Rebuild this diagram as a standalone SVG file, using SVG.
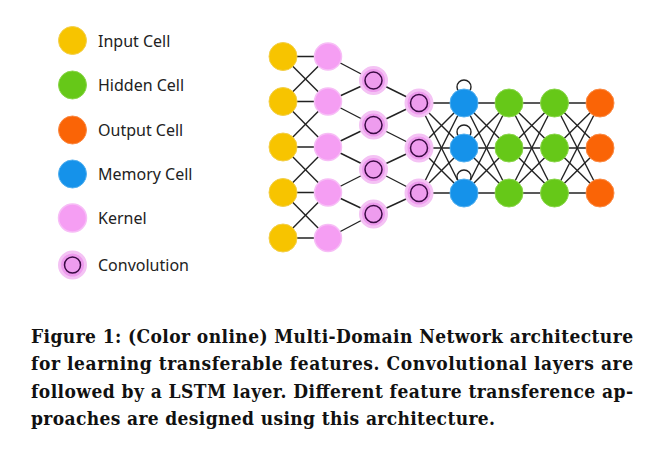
<svg xmlns="http://www.w3.org/2000/svg" width="659" height="449" viewBox="0 0 659 449">
<style>
.leg{font-family:"Noto Sans","Open Sans",sans-serif;font-size:16px;fill:#222}
.cap{font-family:"DejaVu Serif Condensed","DejaVu Serif","Liberation Serif",serif;font-stretch:condensed;font-size:19px;font-weight:bold;fill:#111}
.inp{fill:#f7c400;stroke:#f3cf4a;stroke-width:1}
.hid{fill:#66c818;stroke:#8ad64a;stroke-width:1}
.out{fill:#fa6406;stroke:#fb8a44;stroke-width:1}
.mem{fill:#1592ea;stroke:#52b0f0;stroke-width:1}
.ker{fill:#f59ef3;stroke:#f7bdf6;stroke-width:1.5}
.conv{fill:#ee9cee;stroke:#f4c2f4;stroke-width:3}
.ring{fill:none;stroke:#3a0a44;stroke-width:1.5}
.e line{stroke:#222;stroke-width:1.4}
.loop{fill:none;stroke:#222;stroke-width:1.4}
</style>
<rect width="659" height="449" fill="#ffffff"/>

<g id="legend">
  <g id="legend-input"><circle class="inp" cx="72.5" cy="40.5" r="14"/><text class="leg" x="98" y="46.5">Input Cell</text></g>
  <g id="legend-hidden"><circle class="hid" cx="72.5" cy="85" r="14"/><text class="leg" x="98" y="91">Hidden Cell</text></g>
  <g id="legend-output"><circle class="out" cx="72.5" cy="130" r="14"/><text class="leg" x="98" y="136">Output Cell</text></g>
  <g id="legend-memory"><circle class="mem" cx="72.5" cy="174" r="14"/><text class="leg" x="98" y="180">Memory Cell</text></g>
  <g id="legend-kernel"><circle class="ker" cx="72.5" cy="218" r="14"/><text class="leg" x="98" y="224">Kernel</text></g>
  <g id="legend-conv"><circle class="conv" cx="72.5" cy="265" r="13"/><circle class="ring" cx="72.5" cy="265" r="8"/><text class="leg" x="98" y="271">Convolution</text></g>
</g>

<g id="connectors" class="e">
  <line x1="283" y1="56.5" x2="328" y2="56.5"/><line x1="283" y1="56.5" x2="328" y2="101.5"/>
  <line x1="283" y1="101.5" x2="328" y2="56.5"/><line x1="283" y1="101.5" x2="328" y2="101.5"/><line x1="283" y1="101.5" x2="328" y2="147"/>
  <line x1="283" y1="147" x2="328" y2="101.5"/><line x1="283" y1="147" x2="328" y2="147"/><line x1="283" y1="147" x2="328" y2="192.5"/>
  <line x1="283" y1="192.5" x2="328" y2="147"/><line x1="283" y1="192.5" x2="328" y2="192.5"/><line x1="283" y1="192.5" x2="328" y2="238"/>
  <line x1="283" y1="238" x2="328" y2="192.5"/><line x1="283" y1="238" x2="328" y2="238"/>
  <line x1="328" y1="56.5" x2="373.5" y2="80.5"/>
  <line x1="328" y1="101.5" x2="373.5" y2="80.5"/><line x1="328" y1="101.5" x2="373.5" y2="125"/>
  <line x1="328" y1="147" x2="373.5" y2="125"/><line x1="328" y1="147" x2="373.5" y2="169.5"/>
  <line x1="328" y1="192.5" x2="373.5" y2="169.5"/><line x1="328" y1="192.5" x2="373.5" y2="214"/>
  <line x1="328" y1="238" x2="373.5" y2="214"/>
  <line x1="373.5" y1="80.5" x2="419" y2="103"/>
  <line x1="373.5" y1="125" x2="419" y2="103"/><line x1="373.5" y1="125" x2="419" y2="148"/>
  <line x1="373.5" y1="169.5" x2="419" y2="148"/><line x1="373.5" y1="169.5" x2="419" y2="193"/>
  <line x1="373.5" y1="214" x2="419" y2="193"/>
  <line x1="419" y1="103" x2="464" y2="103"/><line x1="419" y1="103" x2="464" y2="148"/><line x1="419" y1="103" x2="464" y2="193"/>
  <line x1="419" y1="148" x2="464" y2="103"/><line x1="419" y1="148" x2="464" y2="148"/><line x1="419" y1="148" x2="464" y2="193"/>
  <line x1="419" y1="193" x2="464" y2="103"/><line x1="419" y1="193" x2="464" y2="148"/><line x1="419" y1="193" x2="464" y2="193"/>
  <line x1="464" y1="103" x2="509" y2="103"/><line x1="464" y1="103" x2="509" y2="148"/><line x1="464" y1="103" x2="509" y2="193"/>
  <line x1="464" y1="148" x2="509" y2="103"/><line x1="464" y1="148" x2="509" y2="148"/><line x1="464" y1="148" x2="509" y2="193"/>
  <line x1="464" y1="193" x2="509" y2="103"/><line x1="464" y1="193" x2="509" y2="148"/><line x1="464" y1="193" x2="509" y2="193"/>
  <line x1="509" y1="103" x2="554.5" y2="103"/><line x1="509" y1="103" x2="554.5" y2="148"/><line x1="509" y1="103" x2="554.5" y2="193"/>
  <line x1="509" y1="148" x2="554.5" y2="103"/><line x1="509" y1="148" x2="554.5" y2="148"/><line x1="509" y1="148" x2="554.5" y2="193"/>
  <line x1="509" y1="193" x2="554.5" y2="103"/><line x1="509" y1="193" x2="554.5" y2="148"/><line x1="509" y1="193" x2="554.5" y2="193"/>
  <line x1="554.5" y1="103" x2="600" y2="103"/><line x1="554.5" y1="103" x2="600" y2="148"/><line x1="554.5" y1="103" x2="600" y2="193"/>
  <line x1="554.5" y1="148" x2="600" y2="103"/><line x1="554.5" y1="148" x2="600" y2="148"/><line x1="554.5" y1="148" x2="600" y2="193"/>
  <line x1="554.5" y1="193" x2="600" y2="103"/><line x1="554.5" y1="193" x2="600" y2="148"/><line x1="554.5" y1="193" x2="600" y2="193"/>
  <circle class="loop" cx="464" cy="87" r="7"/>
  <circle class="loop" cx="464" cy="132" r="7"/>
  <circle class="loop" cx="464" cy="177" r="7"/>
</g>

<g id="input-layer">
  <g id="in1"><circle class="inp" cx="283" cy="56.5" r="14"/></g>
  <g id="in2"><circle class="inp" cx="283" cy="101.5" r="14"/></g>
  <g id="in3"><circle class="inp" cx="283" cy="147" r="14"/></g>
  <g id="in4"><circle class="inp" cx="283" cy="192.5" r="14"/></g>
  <g id="in5"><circle class="inp" cx="283" cy="238" r="14"/></g>
</g>
<g id="kernel-layer">
  <g id="k1"><circle class="ker" cx="328" cy="56.5" r="13.5"/></g>
  <g id="k2"><circle class="ker" cx="328" cy="101.5" r="13.5"/></g>
  <g id="k3"><circle class="ker" cx="328" cy="147" r="13.5"/></g>
  <g id="k4"><circle class="ker" cx="328" cy="192.5" r="13.5"/></g>
  <g id="k5"><circle class="ker" cx="328" cy="238" r="13.5"/></g>
</g>
<g id="conv1-layer">
  <g id="c1a"><circle class="conv" cx="373.5" cy="80.5" r="13"/><circle class="ring" cx="373.5" cy="80.5" r="8.5"/></g>
  <g id="c1b"><circle class="conv" cx="373.5" cy="125" r="13"/><circle class="ring" cx="373.5" cy="125" r="8.5"/></g>
  <g id="c1c"><circle class="conv" cx="373.5" cy="169.5" r="13"/><circle class="ring" cx="373.5" cy="169.5" r="8.5"/></g>
  <g id="c1d"><circle class="conv" cx="373.5" cy="214" r="13"/><circle class="ring" cx="373.5" cy="214" r="8.5"/></g>
</g>
<g id="conv2-layer">
  <g id="c2a"><circle class="conv" cx="419" cy="103" r="13"/><circle class="ring" cx="419" cy="103" r="8.5"/></g>
  <g id="c2b"><circle class="conv" cx="419" cy="148" r="13"/><circle class="ring" cx="419" cy="148" r="8.5"/></g>
  <g id="c2c"><circle class="conv" cx="419" cy="193" r="13"/><circle class="ring" cx="419" cy="193" r="8.5"/></g>
</g>
<g id="memory-layer">
  <g id="m1"><circle class="mem" cx="464" cy="103" r="14"/></g>
  <g id="m2"><circle class="mem" cx="464" cy="148" r="14"/></g>
  <g id="m3"><circle class="mem" cx="464" cy="193" r="14"/></g>
</g>
<g id="hidden1-layer">
  <g id="h1a"><circle class="hid" cx="509" cy="103" r="14"/></g>
  <g id="h1b"><circle class="hid" cx="509" cy="148" r="14"/></g>
  <g id="h1c"><circle class="hid" cx="509" cy="193" r="14"/></g>
</g>
<g id="hidden2-layer">
  <g id="h2a"><circle class="hid" cx="554.5" cy="103" r="14"/></g>
  <g id="h2b"><circle class="hid" cx="554.5" cy="148" r="14"/></g>
  <g id="h2c"><circle class="hid" cx="554.5" cy="193" r="14"/></g>
</g>
<g id="output-layer">
  <g id="o1"><circle class="out" cx="600" cy="103" r="14"/></g>
  <g id="o2"><circle class="out" cx="600" cy="148" r="14"/></g>
  <g id="o3"><circle class="out" cx="600" cy="193" r="14"/></g>
</g>

<g id="caption">
  <text class="cap" x="31" y="342.5" textLength="602" lengthAdjust="spacing">Figure 1: (Color online) Multi-Domain Network architecture</text>
  <text class="cap" x="31" y="370" textLength="602" lengthAdjust="spacing">for learning transferable features. Convolutional layers are</text>
  <text class="cap" x="31" y="397.5" textLength="602" lengthAdjust="spacing">followed by a LSTM layer. Different feature transference ap-</text>
  <text class="cap" x="31" y="424.5" textLength="464" lengthAdjust="spacing">proaches are designed using this architecture.</text>
</g>
</svg>
